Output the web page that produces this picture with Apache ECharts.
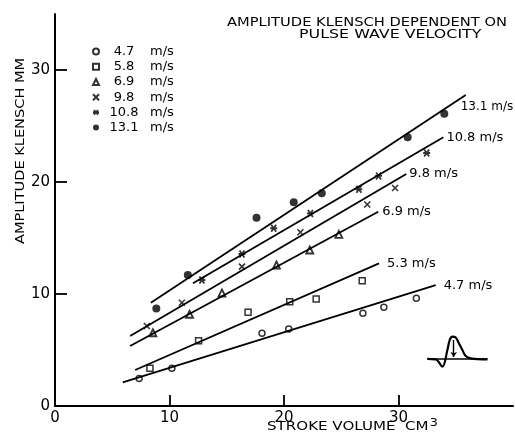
<!DOCTYPE html>
<html><head><meta charset="utf-8">
<script src="https://cdn.jsdelivr.net/npm/echarts@6/dist/echarts.min.js"></script>
<style>html,body{margin:0;padding:0;background:#fff}#c{width:515px;height:433px}</style>
</head><body><div id="c"></div>
<script>
// ---- data ----
const circX  = [7.35, 10.21, 18.08, 20.41, 26.89, 28.72, 31.56];
const circY  = [2.46, 3.37, 6.49, 6.88, 8.28, 8.81, 9.62];
const sqX    = [8.29, 12.54, 16.86, 20.50, 22.81, 26.83];
const sqY    = [3.37, 5.83, 8.37, 9.31, 9.55, 11.19];
const triX   = [8.55, 11.75, 14.58, 19.34, 22.25, 24.79];
const triY   = [6.54, 8.19, 10.09, 12.59, 13.93, 15.33];
const crossX = [8.02, 11.08, 16.33, 21.43, 27.27, 29.70];
const crossY = [7.14, 9.22, 12.44, 15.51, 17.99, 19.46];
const starX  = [12.83, 16.33, 19.10, 22.31, 26.54, 28.26, 32.46];
const starY  = [11.25, 13.57, 15.87, 17.19, 19.35, 20.54, 22.59];
const dotX   = [8.85, 11.60, 17.60, 20.85, 23.30, 30.80, 34.00];
const dotY   = [8.70, 11.70, 16.80, 18.20, 19.00, 24.00, 26.10];

const legendNames = ['4.7', '5.8', '6.9', '9.8', '10.8', '13.1'];

const fitNames = ['13.1 m/s', '10.8 m/s', '9.8 m/s', '6.9 m/s', '5.3 m/s', '4.7 m/s'];
const fitX1 = [8.37, 12.05, 6.56, 6.56, 7.00, 5.92];
const fitY1 = [9.22, 10.96, 6.25, 5.36, 3.21, 2.11];
const fitX2 = [35.87, 33.92, 30.68, 28.23, 28.30, 33.25];
const fitY2 = [27.77, 23.99, 20.71, 17.35, 12.74, 10.80];

// small pulse-wave inset
const waveX = [32.52, 33.25, 33.83, 34.27, 34.47, 34.71, 35.00, 35.26, 35.58, 35.87, 36.31, 37.77];
const waveY = [4.20, 4.17, 3.51, 5.00, 5.89, 6.19, 6.12, 5.63, 5.00, 4.46, 4.26, 4.17];
const baseX = [32.52, 37.77];
const baseY = [4.20, 4.20];
const arrowX = [34.82, 34.82];
const arrowY = [5.89, 4.38];

const xLabelVals = [0, 10, 20, 30];
const xTickVals = [10, 20, 30];
const yLabelVals = [0, 10, 20, 30];
const yTickVals = [10, 20, 30];

// ---- styles ----
const FONT = '"DejaVu Sans", sans-serif';
const labelDist = [5, 3, 3, 4, 8, 8];
const labelOff = [[-10, 12], [0, 0], [0, 0], [0, 0], [0, 0], [0, 1]];
const labelSize = [12, 13, 13, 13, 13, 13];

const zip = (xs, ys) => xs.map((x, i) => [x, ys[i]]);
const X_PATH = 'path://M0,0L10,10M10,0L0,10';
const STAR_PATH = 'path://M0,5L10,5M1.5,1.5L8.5,8.5M8.5,1.5L1.5,8.5';

const scatterDefs = [
  {name: legendNames[0], xs: circX, ys: circY, symbol: 'circle', size: 6, color: 'rgba(0,0,0,0)', bw: 1.5},
  {name: legendNames[1], xs: sqX, ys: sqY, symbol: 'rect', size: 6, color: 'rgba(0,0,0,0)', bw: 1.5},
  {name: legendNames[2], xs: triX, ys: triY, symbol: 'triangle', size: 7, color: 'rgba(0,0,0,0)', bw: 1.8},
  {name: legendNames[3], xs: crossX, ys: crossY, symbol: X_PATH, size: 6, color: '#000', bw: 1.6},
  {name: legendNames[4], xs: starX, ys: starY, symbol: STAR_PATH, size: 7, color: '#000', bw: 1.8},
  {name: legendNames[5], xs: dotX, ys: dotY, symbol: 'circle', size: 8, color: '#000', bw: 0}
];

const series = [];
fitNames.forEach((nm, i) => {
  series.push({
    type: 'line', name: nm, silent: true, symbol: 'none', z: 2,
    data: [[fitX1[i], fitY1[i]], [fitX2[i], fitY2[i]]],
    lineStyle: {color: '#000', width: 1.8},
    endLabel: {show: true, formatter: '{a}', distance: labelDist[i], offset: labelOff[i],
      color: '#000', fontSize: labelSize[i], fontFamily: FONT}
  });
});
scatterDefs.forEach(d => {
  series.push({
    type: 'scatter', name: d.name, symbol: d.symbol, symbolSize: d.size, z: 3, silent: true,
    data: zip(d.xs, d.ys),
    itemStyle: {color: d.color, borderColor: '#000', borderWidth: d.bw}
  });
});
series.push({
  type: 'line', name: 'wave', silent: true, symbol: 'none', smooth: 0.35,
  data: zip(waveX, waveY), lineStyle: {color: '#000', width: 2.2}
});
series.push({
  type: 'line', name: 'base', silent: true, symbol: 'none',
  data: zip(baseX, baseY), lineStyle: {color: '#000', width: 1.6},
  markLine: {silent: true, symbol: ['none', 'arrow'], symbolSize: 5, label: {show: false},
    lineStyle: {color: '#000', width: 1.4, type: 'solid'},
    data: [[{coord: [arrowX[0], arrowY[0]]}, {coord: [arrowX[1], arrowY[1]]}]]}
});

const chart = echarts.init(document.getElementById('c'), null, {renderer: 'canvas'});
chart.setOption({
  animation: false,
  backgroundColor: '#fff',
  grid: {left: 55, right: 2, top: 14, bottom: 27, outerBoundsMode: 'none'},
  xAxis: {
    type: 'value', min: 0, max: 40, interval: 10,
    axisLine: {show: true, lineStyle: {color: '#000', width: 2}},
    axisTick: {show: true, inside: true, length: 11, customValues: xTickVals, lineStyle: {color: '#000', width: 1.8}},
    axisLabel: {customValues: xLabelVals, margin: 5, color: '#000', fontSize: 15, fontFamily: FONT},
    splitLine: {show: false}
  },
  yAxis: {
    type: 'value', min: 0, max: 35, interval: 5,
    axisLine: {show: true, lineStyle: {color: '#000', width: 2}},
    axisTick: {show: true, inside: true, length: 12, customValues: yTickVals, lineStyle: {color: '#000', width: 1.8}},
    axisLabel: {customValues: yLabelVals, margin: 5, color: '#000', fontSize: 15, fontFamily: FONT},
    splitLine: {show: false}
  },
  legend: {
    data: legendNames, orient: 'vertical', left: 87, top: 39,
    itemWidth: 6, itemHeight: 6, itemGap: 0, itemTextGap: 5, selectedMode: false,
    formatter: n => '{n|' + n + '}{u|m/s}',
    textStyle: {color: '#000', fontSize: 13, fontFamily: FONT, lineHeight: 15.2,
      rich: {n: {width: 40, align: 'right', fontSize: 13, fontFamily: FONT, color: '#000'},
             u: {padding: [0, 0, 0, 6], fontSize: 13, fontFamily: FONT, color: '#000'}}}
  },
  graphic: [
    {type: 'text', x: 227, y: 22.7, scaleX: 1.13, silent: true,
      style: {text: 'AMPLITUDE KLENSCH DEPENDENT ON', fill: '#000', font: '13px ' + FONT, textAlign: 'left', textVerticalAlign: 'middle'}},
    {type: 'text', x: 299, y: 35, scaleX: 1.22, silent: true,
      style: {text: 'PULSE WAVE VELOCITY', fill: '#000', font: '13px ' + FONT, textAlign: 'left', textVerticalAlign: 'middle'}},
    {type: 'text', x: 21, y: 151, rotation: Math.PI / 2, scaleX: 1.12, silent: true,
      style: {text: 'AMPLITUDE KLENSCH MM', fill: '#000', font: '13px ' + FONT, textAlign: 'center', textVerticalAlign: 'middle'}},
    {type: 'text', x: 267, y: 427, scaleX: 1.16, silent: true,
      style: {text: 'STROKE VOLUME  CM{s|3}', fill: '#000', font: '13px ' + FONT, textAlign: 'left', textVerticalAlign: 'middle',
        rich: {s: {fontSize: 11, fontFamily: FONT, fill: '#000', padding: [0, 0, 8, 1]}}}}
  ],
  series: series
});
</script></body></html>
